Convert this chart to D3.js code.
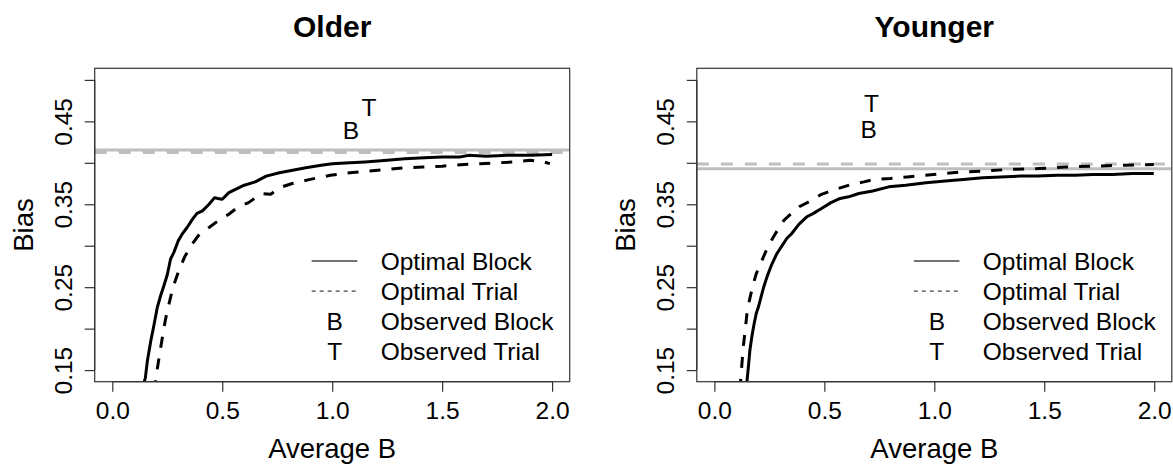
<!DOCTYPE html>
<html>
<head>
<meta charset="utf-8">
<script src="https://cdn.jsdelivr.net/npm/d3@7"></script>
<style>
  html, body { margin: 0; padding: 0; background: #fff; }
  svg text { font-family: "Liberation Sans", Arial, Helvetica, sans-serif; fill: #000; }
</style>
</head>
<body>
<svg id="chart" width="1173" height="464"></svg>
<script>
// ---------------- data ----------------
const panelTitles = ["Older", "Younger"];
const xTicks = [0, 0.5, 1, 1.5, 2];
const xTickLabels = ["0.0", "0.5", "1.0", "1.5", "2.0"];
const yTicks = [0.15, 0.20, 0.25, 0.30, 0.35, 0.40, 0.45, 0.50];
const yTickLabels = ["0.15", "", "0.25", "", "0.35", "", "0.45", ""];
const xDomain = [0, 2];
const yDomain = [0.15, 0.50];
const legendLabels = ["Optimal Block", "Optimal Trial", "Observed Block", "Observed Trial"];

// Older
const olderBlockX = [0.10, 0.150, 0.160, 0.175, 0.190, 0.205, 0.220, 0.235, 0.250, 0.265, 0.280, 0.300, 0.320, 0.340, 0.365, 0.385, 0.410, 0.440, 0.465, 0.480, 0.500, 0.530, 0.560, 0.600, 0.650, 0.700, 0.760, 0.820, 0.880, 0.950, 1.000, 1.080, 1.150, 1.250, 1.330, 1.420, 1.500, 1.580, 1.620, 1.700, 1.800, 1.900, 2.000];
const olderBlockY = [0.100, 0.140, 0.162, 0.185, 0.205, 0.226, 0.240, 0.252, 0.265, 0.284, 0.292, 0.306, 0.315, 0.322, 0.332, 0.339, 0.342, 0.350, 0.358, 0.357, 0.356, 0.364, 0.368, 0.373, 0.377, 0.384, 0.388, 0.391, 0.394, 0.397, 0.399, 0.400, 0.401, 0.403, 0.405, 0.406, 0.407, 0.407, 0.409, 0.408, 0.409, 0.409, 0.410];
const olderTrialX = [0.15, 0.197, 0.205, 0.215, 0.228, 0.241, 0.258, 0.276, 0.300, 0.328, 0.360, 0.398, 0.440, 0.486, 0.530, 0.573, 0.620, 0.678, 0.720, 0.760, 0.818, 0.900, 0.992, 1.080, 1.167, 1.250, 1.330, 1.411, 1.500, 1.600, 1.673, 1.750, 1.830, 1.900, 1.950, 1.990];
const olderTrialY = [0.100, 0.136, 0.152, 0.169, 0.190, 0.210, 0.230, 0.250, 0.268, 0.286, 0.301, 0.3145, 0.322, 0.331, 0.338, 0.347, 0.352, 0.363, 0.362, 0.370, 0.375, 0.380, 0.385, 0.388, 0.390, 0.392, 0.394, 0.395, 0.396, 0.398, 0.399, 0.400, 0.401, 0.403, 0.402, 0.399];
const olderAsymBlock = 0.4155;
const olderAsymTrial = 0.4125;
const olderObsBlock = [1.085, 0.4395];
const olderObsTrial = [1.167, 0.4673];

// Younger
const youngerBlockX = [0.12, 0.148, 0.155, 0.161, 0.170, 0.180, 0.190, 0.200, 0.212, 0.224, 0.240, 0.260, 0.283, 0.310, 0.330, 0.351, 0.385, 0.419, 0.450, 0.487, 0.530, 0.572, 0.610, 0.657, 0.720, 0.793, 0.870, 0.962, 1.050, 1.132, 1.220, 1.302, 1.390, 1.471, 1.560, 1.641, 1.720, 1.811, 1.900, 1.998];
const youngerBlockY = [0.100, 0.136, 0.155, 0.173, 0.190, 0.205, 0.218, 0.226, 0.238, 0.250, 0.263, 0.277, 0.290, 0.301, 0.309, 0.3145, 0.326, 0.3346, 0.339, 0.345, 0.352, 0.357, 0.359, 0.363, 0.366, 0.371, 0.373, 0.376, 0.378, 0.380, 0.382, 0.383, 0.384, 0.384, 0.385, 0.385, 0.386, 0.386, 0.387, 0.387];
const youngerTrialX = [0.10, 0.119, 0.125, 0.131, 0.140, 0.148, 0.160, 0.173, 0.190, 0.216, 0.240, 0.267, 0.290, 0.317, 0.350, 0.386, 0.430, 0.487, 0.550, 0.623, 0.680, 0.725, 0.800, 0.877, 0.960, 1.047, 1.130, 1.217, 1.340, 1.471, 1.600, 1.726, 1.850, 1.998];
const youngerTrialY = [0.100, 0.136, 0.157, 0.177, 0.198, 0.218, 0.235, 0.250, 0.266, 0.282, 0.297, 0.310, 0.320, 0.331, 0.339, 0.347, 0.353, 0.362, 0.368, 0.374, 0.377, 0.380, 0.381, 0.383, 0.385, 0.387, 0.389, 0.390, 0.392, 0.393, 0.395, 0.396, 0.397, 0.398];
const youngerAsymBlock = 0.3927;
const youngerAsymTrial = 0.3985;
const youngerObsBlock = [0.702, 0.440];
const youngerObsTrial = [0.714, 0.4718];

const panels = [
  { title: panelTitles[0], left: 94.7, bx: olderBlockX, by: olderBlockY, tx: olderTrialX, ty: olderTrialY,
    asymB: olderAsymBlock, asymT: olderAsymTrial, obsB: olderObsBlock, obsT: olderObsTrial },
  { title: panelTitles[1], left: 696.8, bx: youngerBlockX, by: youngerBlockY, tx: youngerTrialX, ty: youngerTrialY,
    asymB: youngerAsymBlock, asymT: youngerAsymTrial, obsB: youngerObsBlock, obsT: youngerObsTrial }
];

// ---------------- layout ----------------
const boxW = 475.0, plotTop = 68.3, plotBottom = 381.7;
const fontBase = 24.5, fontLab = 27.5, fontMain = 30;
const svg = d3.select("#chart");

function pad(d) { const r = d[1] - d[0]; return [d[0] - 0.04 * r, d[1] + 0.04 * r]; }

panels.forEach((p, i) => {
  const left = p.left, right = left + boxW;
  const x = d3.scaleLinear().domain(pad(xDomain)).range([left, right]);
  const y = d3.scaleLinear().domain(pad(yDomain)).range([plotBottom, plotTop]);
  const g = svg.append("g");

  const clipId = "clip" + i;
  svg.append("clipPath").attr("id", clipId).append("rect")
    .attr("x", left).attr("y", plotTop).attr("width", boxW).attr("height", plotBottom - plotTop);
  const plot = g.append("g").attr("clip-path", `url(#${clipId})`);

  // asymptote grey lines
  plot.append("line").attr("x1", left).attr("x2", right)
    .attr("y1", y(p.asymB)).attr("y2", y(p.asymB))
    .attr("stroke", "#bebebe").attr("stroke-width", 3);
  plot.append("line").attr("x1", left).attr("x2", right)
    .attr("y1", y(p.asymT)).attr("y2", y(p.asymT))
    .attr("stroke", "#bebebe").attr("stroke-width", 3).attr("stroke-dasharray", "12,12");

  const line = d3.line().x(d => x(d[0])).y(d => y(d[1]));
  plot.append("path").datum(d3.zip(p.bx, p.by)).attr("d", line)
    .attr("fill", "none").attr("stroke", "#000").attr("stroke-width", 3)
    .attr("stroke-linejoin", "round");
  plot.append("path").datum(d3.zip(p.tx, p.ty)).attr("d", line)
    .attr("fill", "none").attr("stroke", "#000").attr("stroke-width", 3)
    .attr("stroke-dasharray", "11,11").attr("stroke-linejoin", "round");

  // observed letters
  g.append("text").attr("x", x(p.obsB[0])).attr("y", y(p.obsB[1])).attr("dy", "0.36em")
    .attr("text-anchor", "middle").attr("font-size", fontBase).text("B");
  g.append("text").attr("x", x(p.obsT[0])).attr("y", y(p.obsT[1])).attr("dy", "0.36em")
    .attr("text-anchor", "middle").attr("font-size", fontBase).text("T");

  // box
  g.append("rect").attr("x", left).attr("y", plotTop).attr("width", boxW).attr("height", plotBottom - plotTop)
    .attr("fill", "none").attr("stroke", "#333").attr("stroke-width", 1.2);

  // x axis
  const xa = g.append("g").attr("transform", `translate(0,${plotBottom})`)
    .call(d3.axisBottom(x).tickValues(xTicks).tickSize(10).tickPadding(0).tickFormat((d, k) => xTickLabels[k]));
  xa.select(".domain").attr("d", `M${x(xTicks[0])},0H${x(xTicks[xTicks.length - 1])}`)
    .attr("stroke", "#333").attr("stroke-width", 1.2);
  xa.selectAll(".tick line").attr("stroke", "#333").attr("stroke-width", 1.2);
  xa.selectAll(".tick text").attr("font-size", fontBase).attr("y", 37.5).attr("dy", null)
    .attr("font-family", '"Liberation Sans", Arial, sans-serif');

  // y axis
  const ya = g.append("g").attr("transform", `translate(${left},0)`)
    .call(d3.axisLeft(y).tickValues(yTicks).tickSize(10).tickFormat((d, k) => yTickLabels[k]));
  ya.select(".domain").attr("d", `M0,${y(yTicks[0])}V${y(yTicks[yTicks.length - 1])}`)
    .attr("stroke", "#333").attr("stroke-width", 1.2);
  ya.selectAll(".tick line").attr("stroke", "#333").attr("stroke-width", 1.2);
  ya.selectAll(".tick text").attr("font-size", fontBase)
    .attr("x", null).attr("dy", null).attr("text-anchor", "middle")
    .attr("font-family", '"Liberation Sans", Arial, sans-serif')
    .attr("transform", "translate(-23,0) rotate(-90)");

  // titles & labels
  const cx = (left + right) / 2;
  g.append("text").attr("x", cx).attr("y", 36.7).attr("text-anchor", "middle")
    .attr("font-size", fontMain).attr("font-weight", "bold").text(p.title);
  g.append("text").attr("x", cx).attr("y", 458).attr("text-anchor", "middle")
    .attr("font-size", fontLab).text("Average B");
  g.append("text").attr("transform", `translate(${left - 61.4},${(plotTop + plotBottom) / 2}) rotate(-90)`)
    .attr("text-anchor", "middle").attr("font-size", fontLab).text("Bias");

  // legend
  const rowY = [261, 291.2, 321.4, 351.6];
  const lx1 = left + 217, lx2 = left + 262.6, lcx = left + 240, tx = left + 286;
  g.append("line").attr("x1", lx1).attr("x2", lx2).attr("y1", rowY[0]).attr("y2", rowY[0])
    .attr("stroke", "#444").attr("stroke-width", 1.3);
  g.append("line").attr("x1", lx1).attr("x2", lx2).attr("y1", rowY[1]).attr("y2", rowY[1])
    .attr("stroke", "#444").attr("stroke-width", 1.3).attr("stroke-dasharray", "4,4");
  g.append("text").attr("x", lcx).attr("y", rowY[2]).attr("dy", "0.36em").attr("text-anchor", "middle")
    .attr("font-size", fontBase).text("B");
  g.append("text").attr("x", lcx).attr("y", rowY[3]).attr("dy", "0.36em").attr("text-anchor", "middle")
    .attr("font-size", fontBase).text("T");
  legendLabels.forEach((lab, k) => {
    g.append("text").attr("x", tx).attr("y", rowY[k]).attr("dy", "0.36em")
      .attr("font-size", fontBase).text(lab);
  });
});
</script>
</body>
</html>
